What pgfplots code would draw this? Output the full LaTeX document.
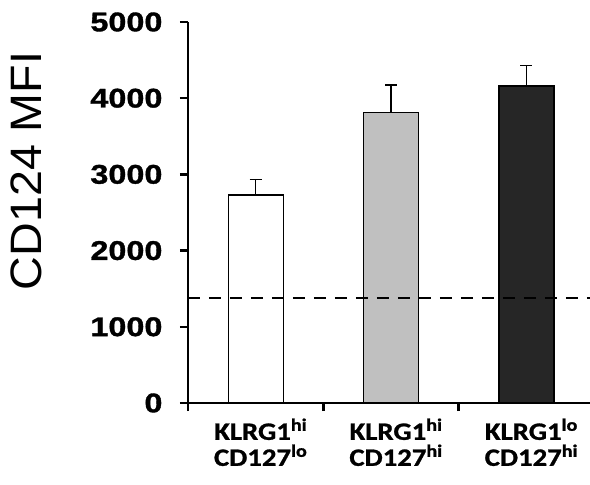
\documentclass[border=0pt]{standalone}
\usepackage{pgfplots}
\pgfplotsset{compat=1.18}
\usepackage{fontspec}
\setmainfont{Liberation Sans}
\newfontfamily\calibri[FakeStretch=1.15, BoldFeatures={FakeBold=1}]{Carlito}
\newfontfamily\tickfont[FakeStretch=1.2, BoldFeatures={FakeBold=1.2}]{Liberation Sans}
\newfontfamily\labfont[FakeStretch=1.06]{Liberation Sans}
\begin{document}
\begin{tikzpicture}
\begin{axis}[
  name=ax,
  scale only axis,
  width=402pt, height=381pt,
  xmin=-0.5, xmax=2.47,
  ymin=0, ymax=5000,
  axis x line*=bottom, axis y line*=left,
  axis line style={line width=2.5pt, -},
  tick align=outside,
  major tick length=8pt,
  tick style={line width=2.5pt, black},
  xtick={-0.5,0.5,1.5},
  xticklabels={},
  extra x ticks={0,1,2},
  extra x tick labels={{KLRG1\textsuperscript{hi}\\CD127\textsuperscript{lo}},{KLRG1\textsuperscript{hi}\\CD127\textsuperscript{hi}},{KLRG1\textsuperscript{lo}\\CD127\textsuperscript{hi}}},
  extra x tick style={major tick length=0pt, tick style={draw=none},
     xticklabel style={align=center, font=\calibri\bfseries\fontsize{25}{26}\selectfont, xshift=5pt, yshift=-12pt}},
  ytick={0,1000,2000,3000,4000,5000},
  yticklabel style={font=\tickfont\bfseries\fontsize{27}{27}\selectfont, xshift=-14pt},
  /pgf/number format/assume math mode=true,
  /pgf/number format/1000 sep={},
  ylabel={CD124 MFI},
  ylabel style={font=\labfont\fontsize{44}{44}\selectfont, at={(axis description cs:-0.403,0.609)}, anchor=center, rotate=0},
]
\addplot[ybar, bar width=55pt, fill=white, draw=black, line width=1.3pt,
  error bars/.cd, y dir=plus, y explicit,
  error bar style={line width=1.3pt, black},
  error mark options={rotate=90, line width=1.3pt, mark size=6pt, black}]
  coordinates {(0,2730) +- (0,205)};
\addplot[ybar, bar width=55pt, fill={rgb,255:red,192;green,192;blue,192}, draw=black, line width=1.3pt,
  error bars/.cd, y dir=plus, y explicit,
  error bar style={line width=1.3pt, black},
  error mark options={rotate=90, line width=1.3pt, mark size=6pt, black}]
  coordinates {(1,3815) +- (0,360)};
\addplot[ybar, bar width=55pt, fill={rgb,255:red,38;green,38;blue,38}, draw=black, line width=1.3pt,
  error bars/.cd, y dir=plus, y explicit,
  error bar style={line width=1.3pt, black},
  error mark options={rotate=90, line width=1.3pt, mark size=6pt, black}]
  coordinates {(2,4160) +- (0,265)};
\addplot[black, line width=2.2pt, dash pattern=on 12pt off 9pt] coordinates {(-0.5,1380) (2.47,1380)};
\end{axis}
\pgfresetboundingbox
\path[use as bounding box] ([shift={(-188pt,-82pt)}]ax.south west) rectangle +(590pt,485pt);
\end{tikzpicture}
\end{document}
